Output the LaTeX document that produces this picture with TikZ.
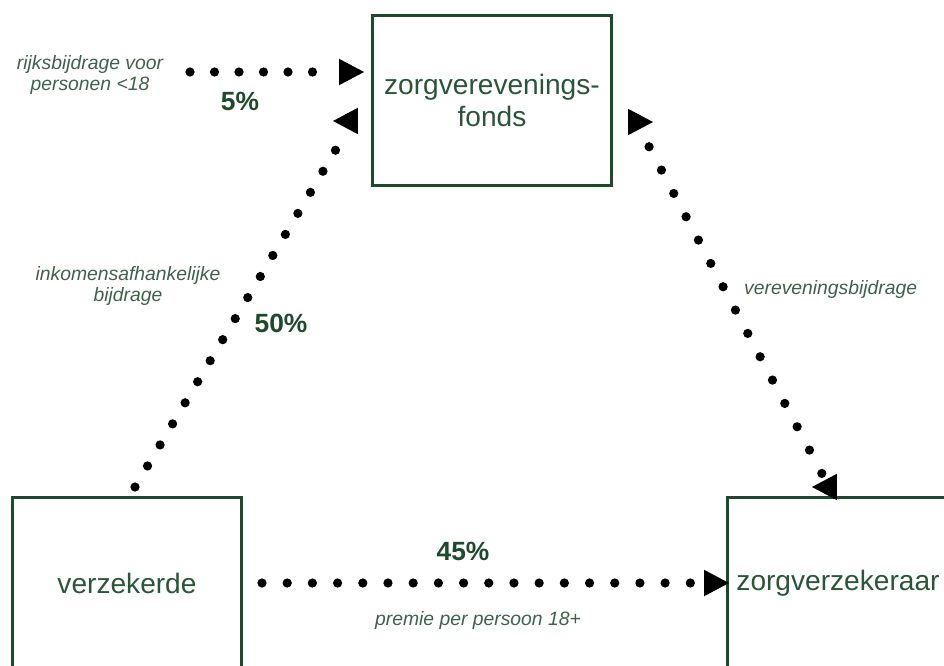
\documentclass[tikz,border=0pt]{standalone}
\usepackage{fontspec}
\setmainfont{Liberation Sans}
\usetikzlibrary{shapes.geometric}
\definecolor{boxgreen}{HTML}{1E4A2C}
\definecolor{txtgreen}{HTML}{2B5538}
\definecolor{lblgreen}{HTML}{3E6249}
\tikzset{
	party/.style = {draw=boxgreen, line width=1.7pt, rectangle, inner sep=0pt,
		text=txtgreen, align=center, font=\fontsize{16}{18}\selectfont},
	tipR/.style  = {isosceles triangle, isosceles triangle stretches, fill=black,
		inner sep=0pt, minimum width=0.53cm, minimum height=0.5cm},
	tipL/.style  = {tipR, shape border rotate=180},
	dots/.style  = {line width=0.185cm, line cap=round, dash pattern=on 0pt off #1},
	dots/.default = 0.5cm,
	note/.style  = {text=lblgreen, align=center, font=\fontsize{11}{12.5}\selectfont\itshape},
	pct/.style   = {text=boxgreen, font=\fontsize{15}{18}\selectfont\bfseries}
}

\begin{document}
\begin{tikzpicture}[x=0.02cm, y=-0.02cm]
	\useasboundingbox (0,0) rectangle (944,666);
	\draw
	% the three parties
	node at (492,100.5) [party, minimum width=4.8cm, minimum height=3.42cm] (fonds) {zorgverevenings-\\fonds}
	node at (127,583) [party, minimum width=4.6cm, minimum height=3.44cm] (verz) {verzekerde}
	node at (838,583) [party, minimum width=4.44cm, minimum height=3.44cm] (zv) {zorgverzekeraar}
	;
	
	% arrow heads
	\node[tipR] (t1) at (347,72) {};
	\node[tipL] (t2) at (350,121) {};
	\node[tipR] (t3) at (636,122) {};
	\node[tipL] (t4) at (829,487) {};
	\node[tipR] (t5) at (712,583) {};
	
	% free ends of the dotted lines
	\coordinate (rijk) at (190,72);
	\coordinate (v1) at (135,487);
	\coordinate (f2) at (338,146);
	\coordinate (v2) at (262,583);
	
	\draw[dots=0.49cm, shorten >=0.4cm](rijk) -- (t1.west);
	\draw[dots=0.49cm](v1) -- (f2);
	\draw[dots=0.528cm, shorten <=0.56cm, shorten >=0.2cm](t3.center) -- (t4.center);
	\draw[dots=0.504cm](v2) -- (t5.west);
	
	% labels
	\node[note] (l1) at (90,75) {rijksbijdrage voor\\personen <18};
	\node[pct] (p1) at (240,101) {5\%};
	\node[note] (l2) at (128,286) {inkomensafhankelijke\\bijdrage};
	\node[pct] (p2) at (281,323) {50\%};
	\node[note, anchor=west] (l3) at (738,290) {vereveningsbijdrage};
	\node[pct] (p3) at (463,551) {45\%};
	\node[note] (l4) at (478,620) {premie per persoon 18+};
\end{tikzpicture}
\end{document}
